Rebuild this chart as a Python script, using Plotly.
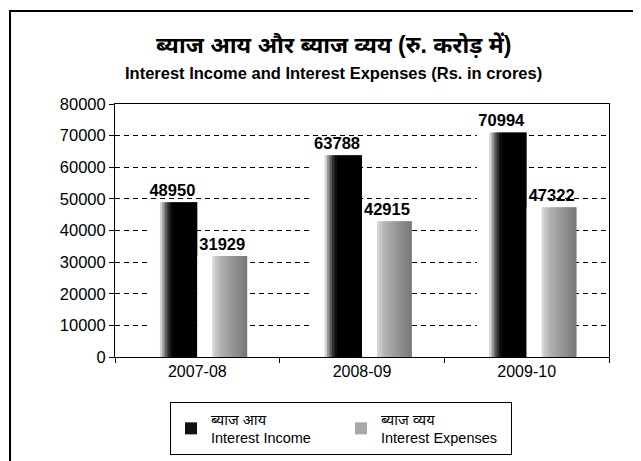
import plotly.graph_objects as go

# ---- data ----
categories = ["2007-08", "2008-09", "2009-10"]
income = [48950, 63788, 70994]
expenses = [31929, 42915, 47322]
income_name = "ब्याज आय<br>Interest Income"
expense_name = "ब्याज व्यय<br>Interest Expenses"
title_hi = "ब्याज आय और ब्याज व्यय (रु. करोड़ में)"
title_en = "Interest Income and Interest Expenses (Rs. in crores)"
y_ticks = [0, 10000, 20000, 30000, 40000, 50000, 60000, 70000, 80000]

# ---- styling ----
FONT = "Liberation Sans, Arial, Noto Sans, sans-serif"
OFF = 8  # page body margin
W, H = 641 - OFF, 461 - OFF
L, R, T, B = 107, 32, 96, 104
PW, PH = W - L - R, H - T - B
BAR_W = 0.303  # width of each bar in category units
N_STRIPS = 20

# gradient stops (position across bar 0..1, grey level 0..255)
income_stops = [(0.0, 255), (0.24, 255), (0.27, 215), (0.40, 60), (0.50, 0), (1.0, 0)]
expense_stops = [(0.0, 255), (0.30, 255), (0.32, 215), (0.45, 180), (0.70, 150), (1.0, 118)]


def grey_at(stops, t):
    for (t0, g0), (t1, g1) in zip(stops[:-1], stops[1:]):
        if t0 <= t <= t1:
            f = 0 if t1 == t0 else (t - t0) / (t1 - t0)
            g = round(g0 + (g1 - g0) * f)
            return "rgb(%d,%d,%d)" % (g, g, g)
    g = stops[-1][1]
    return "rgb(%d,%d,%d)" % (g, g, g)


fig = go.Figure()


def add_gradient_bar(values, stops, start, name, legend_color):
    sw = BAR_W / N_STRIPS
    for i in range(N_STRIPS):
        c = grey_at(stops, (i + 0.5) / N_STRIPS)
        w = sw * 1.6 if i < N_STRIPS - 1 else sw
        fig.add_trace(go.Bar(
            x=categories, y=values, offset=start + i * sw, width=w,
            marker=dict(color=c, line=dict(width=0)),
            showlegend=False, hoverinfo="skip"))
    fig.add_trace(go.Bar(
        x=categories, y=values, offset=start, width=BAR_W,
        marker=dict(color="rgba(0,0,0,0)", line=dict(width=0)),
        text=["<b>%d</b>" % v for v in values], textposition="outside",
        textfont=dict(family=FONT, size=16.5, color="black"),
        cliponaxis=False, showlegend=False, name=name))
    fig.add_trace(go.Bar(
        x=[categories[0]], y=[None], name=name,
        marker=dict(color=legend_color, line=dict(width=0)),
        showlegend=True))


add_gradient_bar(income, income_stops, -BAR_W, income_name, "#111111")
add_gradient_bar(expenses, expense_stops, 0.0, expense_name, "#a8a8a8")


# reference-pixel -> paper coordinates
def px_x(px):
    return (px - OFF - L) / PW


def px_y(py):
    return (H - B - (py - OFF)) / PH


fig.update_layout(
    width=W, height=H,
    margin=dict(l=L, r=R, t=T, b=B, autoexpand=False),
    barmode="overlay",
    paper_bgcolor="white", plot_bgcolor="white",
    font=dict(family=FONT, size=15, color="black"),
    legend=dict(
        orientation="h", x=px_x(170), y=px_y(402),
        xanchor="left", yanchor="top",
        bordercolor="black", borderwidth=1,
        font=dict(family=FONT, size=14.5, color="black"),
        entrywidth=125, itemwidth=30, tracegroupgap=0,
    ),
    annotations=[
        dict(text="<b>" + title_hi + "</b>", x=px_x(333), xref="paper",
             y=px_y(45), yref="paper", xanchor="center", yanchor="middle",
             showarrow=False, font=dict(family=FONT, size=23, color="black")),
        dict(text="<b>" + title_en + "</b>", x=px_x(333), xref="paper",
             y=px_y(73), yref="paper", xanchor="center", yanchor="middle",
             showarrow=False, font=dict(family=FONT, size=16.5, color="black")),
    ],
)

fig.update_xaxes(
    type="category",
    showline=True, linecolor="black", linewidth=1, mirror=True,
    ticks="outside", tickson="boundaries", ticklen=5, tickcolor="black",
    tickfont=dict(family=FONT, size=16), showgrid=False,
)
fig.update_yaxes(
    range=[0, 80000], tickvals=y_ticks, ticktext=[str(v) for v in y_ticks],
    showline=True, linecolor="black", linewidth=1, mirror=True,
    ticks="outside", ticklen=5, tickcolor="black",
    tickfont=dict(family=FONT, size=16.5),
    showgrid=True, gridcolor="black", gridwidth=1, griddash="5px,4px",
    zeroline=False,
)

# outer frame
fig.add_shape(type="rect", xref="paper", yref="paper",
              x0=px_x(10), x1=px_x(700), y0=px_y(520), y1=px_y(11),
              line=dict(color="black", width=2), layer="above")

fig.write_html("out.html")
